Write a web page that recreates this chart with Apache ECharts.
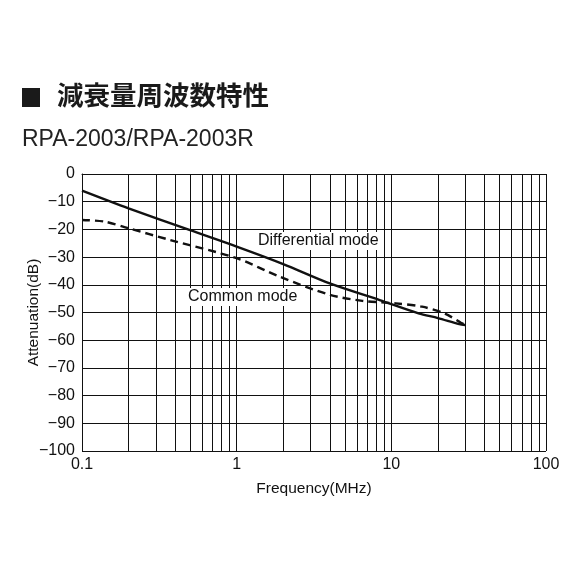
<!DOCTYPE html>
<html><head><meta charset="utf-8">
<script src="https://cdn.jsdelivr.net/npm/echarts@6/dist/echarts.min.js"></script>
<style>html,body{margin:0;padding:0;background:#fff}#c{width:583px;height:583px}</style>
</head><body><div id="c"></div>
<script>
const titleText = '減衰量周波数特性';
const subtitleText = 'RPA-2003/RPA-2003R';
const xName = 'Frequency(MHz)';
const yName = 'Attenuation(dB)';
const xTicks = [0.1, 1, 10, 100];
const xMinorLines = [0.2,0.3,0.4,0.5,0.6,0.7,0.8,0.9,2,3,4,5,6,7,8,9,20,30,40,50,60,70,80,90];
const diffFreq = [0.1, 0.2, 0.5, 1, 2, 4, 8.4, 15, 20, 27.5, 30];
const diffDb   = [-6, -12.4, -20.3, -26.2, -32.5, -39.5, -45.5, -50.3, -52, -54.2, -54.5];
const commFreq = [0.1, 0.14, 0.2, 0.37, 1, 1.9, 4, 6.5, 10.7, 15.8, 22, 28, 29.5];
const commDb   = [-16.6, -17.2, -19.6, -23.8, -30.4, -37.1, -43.6, -45.8, -46.7, -47.9, -50.3, -53.6, -54.3];
const labelDiff = 'Differential mode';
const labelComm = 'Common mode';

const chart = echarts.init(document.getElementById('c'));
const font = 'Liberation Sans, Arial, sans-serif';
chart.setOption({
  animation: false,
  grid: {left: 82, right: 37, top: 174, bottom: 132, containLabel: false},
  xAxis: {
    type: 'log', logBase: 10, min: 0.1, max: 100,
    name: xName, nameLocation: 'middle', nameGap: 30,
    nameTextStyle: {color: '#111', fontSize: 15.5, fontFamily: font},
    axisLine: {show: true, lineStyle: {color: '#111', width: 1}},
    axisTick: {show: false},
    axisLabel: {color: '#111', fontSize: 16, fontFamily: font, margin: 6,
      formatter: v => String(v)},
    splitLine: {show: true, lineStyle: {color: '#111', width: 1}}
  },
  yAxis: {
    type: 'value', min: -100, max: 0, interval: 10,
    name: yName, nameLocation: 'middle', nameGap: 40, nameMoveOverlap: false,
    nameTextStyle: {color: '#111', fontSize: 15.5, fontFamily: font},
    axisLine: {show: true, lineStyle: {color: '#111', width: 1}},
    axisTick: {show: false},
    axisLabel: {color: '#111', fontSize: 16, fontFamily: font, margin: 7,
      formatter: v => v < 0 ? '\u2212' + Math.abs(v) : String(v)},
    splitLine: {show: true, lineStyle: {color: '#111', width: 1}}
  },
  graphic: [
    {type: 'rect', shape: {x: 22, y: 88, width: 18, height: 19}, style: {fill: '#1a1a1a'}},
    {type: 'text', left: 57, top: 82, style: {text: titleText, fill: '#1a1a1a',
      font: 'bold 26.5px "Noto Sans CJK JP", sans-serif'}},
    {type: 'text', left: 22, top: 128, style: {text: subtitleText, fill: '#222',
      font: '23px "Liberation Sans", Arial, sans-serif'}},
    {type: 'text', left: 255, top: 232, z: 100, style: {text: labelDiff, fill: '#111',
      font: '16px "Liberation Sans", Arial, sans-serif', backgroundColor: '#fff', padding: [1, 3]}},
    {type: 'text', left: 185, top: 288, z: 100, style: {text: labelComm, fill: '#111',
      font: '16px "Liberation Sans", Arial, sans-serif', backgroundColor: '#fff', padding: [1, 3]}}
  ],
  series: [
    {
      type: 'line', name: 'minor', data: [], silent: true,
      markLine: {symbol: 'none', silent: true, label: {show: false},
        lineStyle: {color: '#111', width: 1, type: 'solid'},
        data: xMinorLines.map(v => ({xAxis: v}))}
    },
    {
      type: 'line', name: labelDiff, showSymbol: false, smooth: 0.3, z: 5,
      data: diffFreq.map((f, i) => [f, diffDb[i]]),
      lineStyle: {color: '#111', width: 2.4}
    },
    {
      type: 'line', name: labelComm, showSymbol: false, smooth: 0.3, z: 5,
      data: commFreq.map((f, i) => [f, commDb[i]]),
      lineStyle: {color: '#111', width: 2.4, type: [8, 5]}
    }
  ]
});
</script></body></html>
